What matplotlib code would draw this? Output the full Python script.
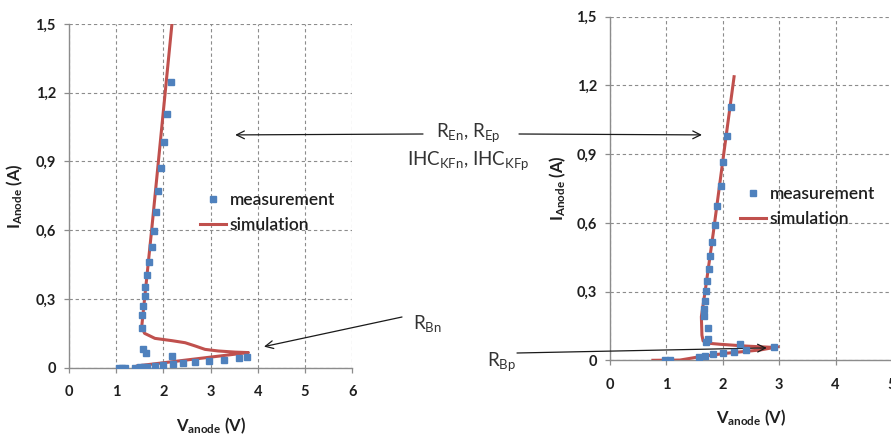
import matplotlib
matplotlib.use("Agg")
import matplotlib.pyplot as plt

plt.rcParams["font.family"] = ["Lato", "DejaVu Sans"]
plt.rcParams["mathtext.fontset"] = "custom"
plt.rcParams["mathtext.rm"] = "Lato"
plt.rcParams["mathtext.default"] = "regular"

# ---- data: n-type device (left panel) ----
meas_n_v = [1.06, 1.12, 1.18, 1.40, 1.50, 1.58, 1.66, 1.83, 2.00, 2.20, 2.42, 2.67,
            2.97, 3.29, 3.61, 3.76, 2.19, 1.63, 1.56, 1.54, 1.55, 1.57, 1.60, 1.62,
            1.65, 1.69, 1.75, 1.79, 1.84, 1.89, 1.95, 2.02, 2.08, 2.17]
meas_n_i = [0.0, 0.0, 0.0, 0.0, 0.002, 0.003, 0.005, 0.009, 0.012, 0.015, 0.019, 0.024,
            0.031, 0.035, 0.041, 0.047, 0.052, 0.065, 0.080, 0.175, 0.230, 0.268, 0.311, 0.351,
            0.406, 0.461, 0.525, 0.598, 0.678, 0.769, 0.870, 0.983, 1.109, 1.249]
sim_n_v = [1.45, 3.80, 3.52, 3.16, 2.88, 2.67, 2.46, 2.18, 1.82, 1.60, 1.54, 1.75, 2.18]
sim_n_i = [0.008, 0.066, 0.068, 0.073, 0.080, 0.095, 0.109, 0.118, 0.128, 0.150, 0.179, 0.600, 1.500]

# ---- data: p-type device (right panel) ----
meas_p_v = [0.98, 1.06, 1.57, 1.68, 1.83, 2.01, 2.19, 2.41, 2.91, 2.30, 1.71, 1.73, 1.73,
            1.67, 1.67, 1.69, 1.70, 1.72, 1.75, 1.78, 1.81, 1.86, 1.90, 1.96, 2.01, 2.08, 2.14]
meas_p_i = [0.0, 0.0, 0.013, 0.019, 0.026, 0.031, 0.036, 0.044, 0.059, 0.071, 0.080, 0.092, 0.140,
            0.195, 0.224, 0.260, 0.303, 0.346, 0.397, 0.455, 0.518, 0.589, 0.672, 0.762, 0.864, 0.981, 1.107]
sim_p_v = [0.76, 1.24, 1.60, 2.07, 2.66, 2.98, 2.84, 2.42, 1.95, 1.72, 1.65, 1.63, 1.62, 1.69, 1.83, 2.01, 2.20]
sim_p_i = [0.0, 0.001, 0.016, 0.031, 0.045, 0.059, 0.057, 0.062, 0.070, 0.075, 0.085, 0.110, 0.190,
           0.307, 0.554, 0.889, 1.238]

y_ticks = [0.0, 0.3, 0.6, 0.9, 1.2, 1.5]
y_tick_labels = ["0", "0,3", "0,6", "0,9", "1,2", "1,5"]
x_ticks_n = [0, 1, 2, 3, 4, 5, 6]
x_ticks_p = [0, 1, 2, 3, 4, 5]

BLUE = "#4f81bd"
RED = "#c0504d"
GRID = "#8c8c8c"
TXT = "#1f1f1f"

W, H = 891, 434
fig = plt.figure(figsize=(W / 100, H / 100), dpi=100)


def px(x, y):
    """pixel position -> figure fraction"""
    return x / W, 1 - y / H


ax1 = fig.add_axes([69 / W, 1 - 367.7 / H, 283.3 / W, 343.7 / H])
ax2 = fig.add_axes([610 / W, 1 - 360.3 / H, 282 / W, 343.6 / H])


def style(ax, xticks):
    ax.set_xlim(xticks[0], xticks[-1])
    ax.set_ylim(0, 1.5)
    ax.set_xticks(xticks)
    ax.set_xticklabels([str(t) for t in xticks])
    ax.set_yticks(y_ticks)
    ax.set_yticklabels(y_tick_labels)
    ax.grid(True, color=GRID, ls=(0, (3, 2.5)), lw=0.8)
    ax.set_axisbelow(True)
    for s in ("top", "right"):
        ax.spines[s].set_visible(False)
    for s in ("left", "bottom"):
        ax.spines[s].set_color(GRID)
        ax.spines[s].set_linewidth(1.0)
    ax.tick_params(axis="both", length=3.5, width=0.9, color=GRID,
                   labelsize=10.5, labelcolor=TXT)
    ax.tick_params(axis="x", pad=9)
    ax.tick_params(axis="y", pad=6)
    for lab in ax.get_xticklabels() + ax.get_yticklabels():
        lab.set_fontweight("bold")
    ax.set_xlabel("V$_{anode}$ (V)", fontsize=12, fontweight="bold", color=TXT)
    ax.set_ylabel("I$_{Anode}$ (A)", fontsize=12, fontweight="bold", color=TXT)


for ax, mv, mi, sv, si, xt in ((ax1, meas_n_v, meas_n_i, sim_n_v, sim_n_i, x_ticks_n),
                               (ax2, meas_p_v, meas_p_i, sim_p_v, sim_p_i, x_ticks_p)):
    style(ax, xt)
    ax.plot(sv, si, color=RED, lw=2.2, solid_joinstyle="round", label="simulation", zorder=3)
    ax.plot(mv, mi, ls="none", marker="s", ms=5, color=BLUE, label="measurement", zorder=4)
    h, l = ax.get_legend_handles_labels()
    leg = ax.legend(h[::-1], l[::-1], frameon=False, fontsize=12.5, handlelength=1.5,
                    handletextpad=0.2, labelspacing=0.5, borderpad=0, borderaxespad=0,
                    loc="upper left",
                    bbox_to_anchor=(0.462, 0.51) if ax is ax1 else (0.461, 0.506),
                    prop={"weight": "semibold", "size": 12.5})
    for t in leg.get_texts():
        t.set_color(TXT)

ax1.yaxis.set_label_coords(-0.155, 0.5)
ax1.xaxis.set_label_coords(0.5, -0.138)
ax2.yaxis.set_label_coords(-0.149, 0.5)
ax2.xaxis.set_label_coords(0.5, -0.137)

# ---- annotations ----
ANN = "#333333"
fig.text(*px(468, 137), "R$_{En}$, R$_{Ep}$", ha="center", va="baseline",
         fontsize=13.5, color=ANN)
fig.text(*px(468, 165), "IHC$_{KFn}$, IHC$_{KFp}$", ha="center", va="baseline",
         fontsize=13.5, color=ANN)
fig.text(*px(413, 329), "R$_{Bn}$", ha="left", va="baseline", fontsize=13.5, color=ANN)
fig.text(*px(487, 366), "R$_{Bp}$", ha="left", va="baseline", fontsize=13.5, color=ANN)

arrow = dict(arrowstyle="->", color="#1a1a1a", lw=0.9, shrinkA=0, shrinkB=0,
             mutation_scale=14)
ax1.annotate("", xy=(3.52, 1.016), xycoords="data", xytext=px(423, 134),
             textcoords="figure fraction", arrowprops=arrow, annotation_clip=False)
ax2.annotate("", xy=(1.63, 0.984), xycoords="data", xytext=px(519, 134),
             textcoords="figure fraction", arrowprops=arrow, annotation_clip=False)
ax1.annotate("", xy=(4.13, 0.092), xycoords="data", xytext=px(402, 317),
             textcoords="figure fraction", arrowprops=arrow, annotation_clip=False)
ax2.annotate("", xy=(2.78, 0.054), xycoords="data", xytext=px(517, 353),
             textcoords="figure fraction", arrowprops=arrow, annotation_clip=False)

fig.savefig("out.png", dpi=100)
